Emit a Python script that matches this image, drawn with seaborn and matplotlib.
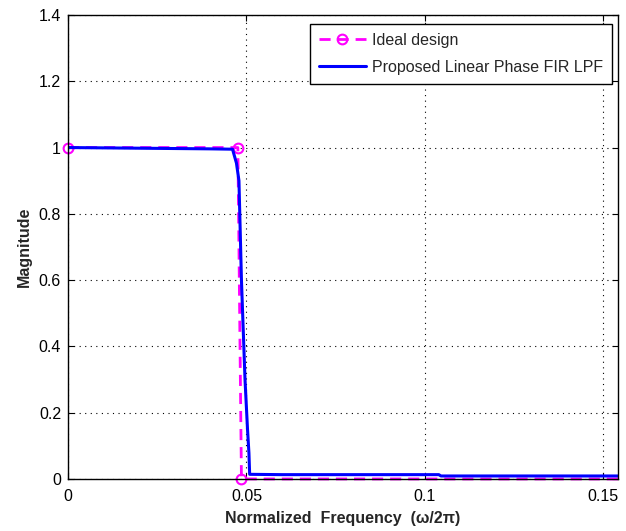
import matplotlib
matplotlib.use('Agg')
import matplotlib.pyplot as plt
import seaborn as sns
import pandas as pd

# Ideal brick-wall response
ideal_freq = [0.0, 0.0476, 0.0486, 0.1541]
ideal_mag = [1.0, 1.0, 0.0, 0.0]

# Designed linear phase FIR low-pass response
fir_freq = [0.0, 0.010, 0.020, 0.030, 0.040, 0.0461, 0.0472, 0.0479,
            0.0486, 0.0496, 0.0503, 0.0507, 0.0509, 0.060, 0.080, 0.1039,
            0.1045, 0.130, 0.1541]
fir_mag = [1.0, 0.999, 0.998, 0.997, 0.996, 0.995, 0.953, 0.90,
           0.60, 0.30, 0.15, 0.078, 0.014, 0.013, 0.013, 0.013,
           0.009, 0.009, 0.009]

xticks = [0, 0.05, 0.1, 0.15]
xtick_labels = ['0', '0.05', '0.1', '0.15']
yticks = [0, 0.2, 0.4, 0.6, 0.8, 1.0, 1.2, 1.4]
ytick_labels = ['0', '0.2', '0.4', '0.6', '0.8', '1', '1.2', '1.4']

sns.set_style('ticks')
plt.rcParams['font.family'] = ['Liberation Sans', 'DejaVu Sans']

fig = plt.figure(figsize=(6.26, 5.31), dpi=100)
ax = fig.add_axes([0.1086, 0.098, 0.8786, 0.8738])

ideal_df = pd.DataFrame({'f': ideal_freq, 'm': ideal_mag})
fir_df = pd.DataFrame({'f': fir_freq, 'm': fir_mag})

sns.lineplot(data=ideal_df, x='f', y='m', ax=ax, sort=False, estimator=None,
             color='#ff00ff', linestyle='--', linewidth=2.0, dashes=False,
             marker='o', markersize=7, markerfacecolor='none',
             markeredgecolor='#ff00ff', markeredgewidth=1.5,
             markevery=[0, 1, 2], clip_on=False, label='Ideal design')
ax.lines[-1].set_linestyle((0, (4, 2.5)))
sns.lineplot(data=fir_df, x='f', y='m', ax=ax, sort=False, estimator=None,
             color='#0000ff', linewidth=2.2,
             label='Proposed Linear Phase FIR LPF')

ax.set_xlim(0, 0.1541)
ax.set_ylim(0, 1.4)
ax.set_xticks(xticks)
ax.set_xticklabels(xtick_labels)
ax.set_yticks(yticks)
ax.set_yticklabels(ytick_labels)
ax.tick_params(direction='in', length=4, width=0.8, labelsize=11.5,
               top=True, right=True, colors='black')
ax.tick_params(axis='x', pad=7)
ax.tick_params(axis='y', pad=5)
ax.grid(True, linestyle=(0, (1, 4)), color='black', linewidth=0.8)
for s in ax.spines.values():
    s.set_visible(True)
    s.set_color('black')
    s.set_linewidth(1.0)

ax.set_xlabel('Normalized  Frequency  (\u03c9/2\u03c0)', fontsize=11.5,
              fontweight='bold', labelpad=5)
ax.set_ylabel('Magnitude', fontsize=11.5, fontweight='bold', labelpad=5)

leg = ax.legend(loc='upper right', bbox_to_anchor=(0.989, 0.9806),
                fontsize=11.5, frameon=True, fancybox=False,
                edgecolor='black', framealpha=1, borderaxespad=0,
                handlelength=3.0, handletextpad=0.35, borderpad=0.55,
                labelspacing=0.75)
leg.get_frame().set_linewidth(1.0)

fig.savefig('out.png', dpi=100, facecolor='white')
